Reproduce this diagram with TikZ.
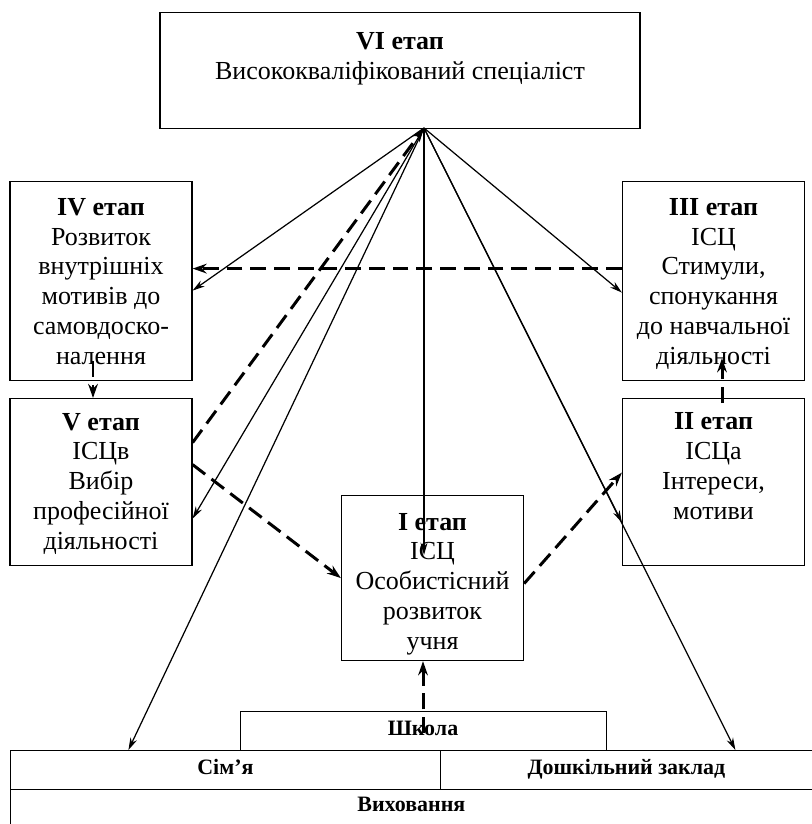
\documentclass[tikz,border=0pt]{standalone}
\usepackage{fontspec}
\setmainfont{Liberation Serif}
\usetikzlibrary{arrows.meta}
\begin{document}
\begin{tikzpicture}[x=0.02cm,y=-0.02cm,
    stage/.style={draw, line width=0.7pt, align=center, anchor=north, inner sep=0pt, minimum width=3.64cm, font=\fontsize{14.8}{17}\selectfont},
    base/.style={draw, line width=0.5pt, inner sep=0pt, minimum height=0.78cm, text height=1.6ex, text depth=0.4ex, font=\bfseries\fontsize{12.5}{14}\selectfont},
    link/.style={line width=0.7pt, -{Stealth[length=7pt,width=4pt]}},
    dlink/.style={line width=1.7pt, dash pattern=on 9pt off 4.5pt, -{Stealth[length=8pt,width=5.5pt]}}]
    \useasboundingbox (0,0) rectangle (811,824);
    \node[stage, minimum width=9.6cm, text height=1.34cm, text depth=0.98cm] (s6) at (400,12) {\textbf{VI етап}\\Висококваліфікований спеціаліст};
    \node[stage, text height=3.66cm, text depth=0.32cm] (s4) at (101,181) {\textbf{IV етап}\\Розвиток\\внутрішніх\\мотивів до\\самовдоско-\\налення};
    \node[stage, text height=3.66cm, text depth=0.32cm] (s3) at (713.5,181) {\textbf{III етап}\\ІСЦ\\Стимули,\\спонукання\\до навчальної\\діяльності};
    \node[stage, text height=3.02cm, text depth=0.32cm] (s5) at (101,398) {\textbf{V етап}\\ІСЦв\\Вибір\\професійної\\діяльності};
    \node[stage, text height=2.42cm, text depth=0.92cm] (s2) at (713.5,398) {\textbf{II етап}\\ІСЦа\\Інтереси,\\мотиви};
    \node[stage, text height=3.08cm, text depth=0.22cm] (s1) at (432.5,495) {\textbf{I етап}\\ІСЦ\\Особистісний\\розвиток\\учня};
    \node[base, minimum width=7.32cm, anchor=north] (shk) at (423,711) {Школа};
    \node[base, minimum width=8.6cm, anchor=north west] (sim) at (10,750) {Сім’я};
    \node[base, minimum width=7.44cm, anchor=north west] (dosh) at (440,750) {Дошкільний заклад};
    \node[base, draw=none, minimum width=16.04cm, minimum height=0.68cm, anchor=north west] (vyh) at (10,789) {Виховання};
    \draw[line width=0.5pt] (vyh.north west) -- (vyh.south west);
    \coordinate (apex) at (424,128);
    \coordinate (core) at (424,555);
    \draw[link] (apex) -- ([yshift=-0.19cm]s4.east);
    \draw[link] (apex) -- ([yshift=-0.73cm]s5.east);
    \draw[link] (apex) -- ([xshift=-1.94cm]sim.north);
    \draw[link] (apex) -- (core);
    \draw[link] (apex) -- ([yshift=-0.23cm]s3.west);
    \draw[link] (apex) -- ([yshift=-0.81cm]s2.west);
    \draw[link] (apex) -- ([xshift=2.18cm]dosh.north);
    \draw[dlink] ([yshift=0.79cm]s5.east) -- (apex);
    \draw[dlink] ([yshift=0.25cm]s3.west) -- ([yshift=0.25cm]s4.east);
    \draw[dlink] ([yshift=0.35cm]s5.east) -- (s1.west);
    \draw[dlink] ([yshift=-0.11cm]s1.east) -- ([yshift=0.19cm]s2.west);
    \draw[dlink] ([xshift=0.17cm,yshift=-0.1cm]s2.north) -- ([xshift=0.17cm,yshift=0.46cm]s3.south);
    \draw[dlink] ([xshift=-0.16cm,yshift=0.4cm]s4.south) -- ([xshift=-0.16cm]s5.north);
    \draw[dlink] ([yshift=-0.44cm]shk.north) -- (shk.north |- s1.south);
\end{tikzpicture}
\end{document}
